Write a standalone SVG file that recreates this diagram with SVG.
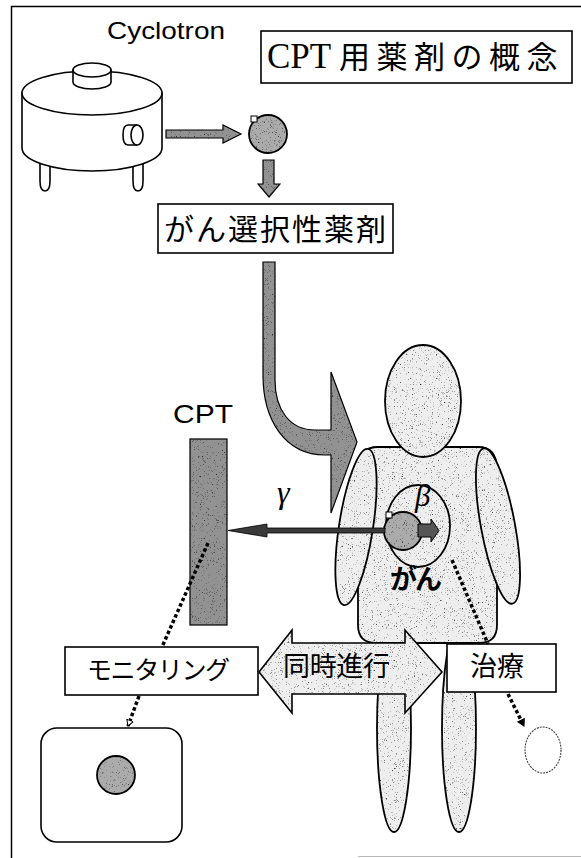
<svg xmlns="http://www.w3.org/2000/svg" width="581" height="858" viewBox="0 0 581 858">
  <style>
    .box { fill: #fff; stroke: #000; stroke-width: 1.6; }
    .body { fill: #eeeeee; stroke: #000; stroke-width: 1.8; }
    .dark { fill: #929292; stroke: #000; stroke-width: 1.2; }
    .ball { fill: #ababab; stroke: #000; stroke-width: 1.8; }
    .white { fill: #fff; stroke: #000; stroke-width: 1.6; }
    .dot { fill: none; stroke: #000; stroke-width: 3.5; stroke-dasharray: 3.5 2.5; }
    .sans { font-family: "Liberation Sans", Arial, sans-serif; fill: #000; }
    .jp { font-family: "Noto Sans CJK JP", "Noto Sans", sans-serif; fill: #000; }
    .greek { font-family: "Liberation Serif", "DejaVu Serif", serif; font-style: italic; fill: #000; }
  </style>
  <defs>
    <!-- speckled print texture for shaded areas -->
    <filter id="stip" x="-3%" y="-3%" width="106%" height="106%" color-interpolation-filters="sRGB">
      <feTurbulence type="fractalNoise" baseFrequency="1.5" numOctaves="1" seed="4" result="n"/>
      <feColorMatrix in="n" type="matrix" values="0 0 0 0 0.1  0 0 0 0 0.1  0 0 0 0 0.1  0 0 0 4 -2.5" result="d"/>
      <feComposite in="d" in2="SourceAlpha" operator="in" result="dm"/>
      <feMerge><feMergeNode in="SourceGraphic"/><feMergeNode in="dm"/></feMerge>
    </filter>
    <marker id="openHead" markerWidth="8" markerHeight="8" refX="6" refY="4" orient="auto" markerUnits="userSpaceOnUse">
      <path d="M0,0.5 L6,4 L0,7.5 Z" fill="#fff" stroke="#000" stroke-width="1"/>
    </marker>
    <marker id="fillHead" markerWidth="10" markerHeight="10" refX="7" refY="4.5" orient="auto" markerUnits="userSpaceOnUse">
      <path d="M0,0 L8,4.5 L0,9 Z" fill="#000"/>
    </marker>
  </defs>

  <rect width="581" height="858" fill="#fff"/>

  <!-- page frame -->
  <g id="frame">
    <line x1="11.5" y1="6" x2="11.5" y2="858" stroke="#000" stroke-width="1.5"/>
    <line x1="11" y1="6.5" x2="581" y2="6.5" stroke="#000" stroke-width="1.5"/>
    <line x1="358" y1="856.5" x2="581" y2="856.5" stroke="#bbb" stroke-width="1"/>
  </g>

  <!-- title -->
  <g id="title">
    <rect class="box" x="261" y="31" width="311" height="52"/>
    <text y="68" font-family="'Liberation Serif', 'Noto Sans CJK JP', serif"><tspan x="267" font-size="35">CPT</tspan><tspan x="339" font-size="31" letter-spacing="6.5">用薬剤の概念</tspan></text>
  </g>

  <!-- cyclotron -->
  <g id="cyclotron">
    <text class="sans" x="107" y="39" font-size="24" textLength="118" lengthAdjust="spacingAndGlyphs">Cyclotron</text>
    <!-- legs -->
    <path class="white" d="M40,160 L40,181 Q40,191 45,191 Q50,191 50,181 L50,160 Z"/>
    <path class="white" d="M133,160 L133,181 Q133,191 138,191 Q143,191 143,181 L143,160 Z"/>
    <!-- drum -->
    <path class="white" d="M22,93 L22,148 A70,23 0 0 0 162,148 L162,93 Z"/>
    <ellipse class="white" cx="92" cy="93" rx="70" ry="22"/>
    <!-- top cap -->
    <path class="white" d="M73,70 L73,82 A19,7 0 0 0 111,82 L111,70 Z"/>
    <ellipse class="white" cx="92" cy="70" rx="19" ry="7"/>
    <!-- beam port -->
    <path class="white" d="M137,125 L128,125 Q123,125 123,135 Q123,145 128,145 L137,145"/>
    <ellipse class="white" cx="137" cy="135" rx="6" ry="10"/>
  </g>

  <!-- radionuclide -->
  <g id="nuclide">
    <circle class="ball" cx="268" cy="134" r="19" filter="url(#stip)"/>
    <rect x="251" y="116" width="6" height="6" fill="#fff" stroke="#000" stroke-width="1"/>
  </g>

  <!-- selective drug label -->
  <g id="drug">
    <rect class="box" x="158" y="204" width="235" height="49"/>
    <text class="jp" x="164" y="240" font-size="30" textLength="222" lengthAdjust="spacing">がん選択性薬剤</text>
  </g>

  <!-- patient -->
  <g id="patient" filter="url(#stip)">
    <ellipse class="body" cx="394" cy="728" rx="17" ry="104"/>
    <ellipse class="body" cx="459" cy="728" rx="17" ry="104"/>
    <path class="body" d="M378,447 L478,447 Q497,447 497,470 L497,625 Q497,643 479,643 L376,643 Q358,643 358,625 L358,470 Q358,447 378,447 Z"/>
    <ellipse class="body" cx="356" cy="527" rx="17" ry="79" transform="rotate(8.7 356 527)"/>
    <ellipse class="body" cx="498" cy="526" rx="17" ry="79" transform="rotate(-10.5 498 526)"/>
    <ellipse class="body" cx="423" cy="401" rx="38" ry="56"/>
    <ellipse class="body" cx="418" cy="526" rx="32" ry="41"/>
  </g>

  <!-- tumour with emitted particles -->
  <g id="tumor">
    <circle class="ball" cx="403" cy="531" r="19" filter="url(#stip)"/>
    <rect x="386" y="512" width="6" height="6" fill="#fff" stroke="#000" stroke-width="1"/>
    <path d="M418,524 L431,524 L431,519 L439,530.5 L431,542 L431,537 L418,537 Z" fill="#555" stroke="#000" stroke-width="1"/>
    <text class="greek" x="415" y="506" font-size="31">β</text>
    <text class="jp" x="390" y="589" font-size="27" font-weight="bold" textLength="52" lengthAdjust="spacing">がん</text>
  </g>

  <!-- CPT detector -->
  <g id="cpt">
    <text class="sans" x="173" y="423" font-size="26" textLength="60" lengthAdjust="spacingAndGlyphs">CPT</text>
    <rect class="dark" x="190" y="439" width="37" height="186" fill="#888" filter="url(#stip)"/>
  </g>
  <text class="greek" x="277" y="503" font-size="32">γ</text>

  <!-- monitoring -->
  <g id="monitoring">
    <rect class="box" x="65" y="647" width="193" height="48"/>
    <text class="jp" x="87" y="679" font-size="25" textLength="143" lengthAdjust="spacing">モニタリング</text>
  </g>

  <g id="screen">
    <rect class="white" x="41" y="728" width="141" height="114" rx="16"/>
    <circle class="ball" cx="116" cy="775" r="19" filter="url(#stip)"/>
  </g>

  <!-- therapy -->
  <g id="therapy">
    <rect class="box" x="447" y="644" width="109" height="48"/>
    <text class="jp" x="470" y="676" font-size="27" textLength="54" lengthAdjust="spacing">治療</text>
  </g>

  <g id="target">
    <ellipse cx="543" cy="750" rx="18" ry="23" fill="none" stroke="#444" stroke-width="1.1" stroke-dasharray="2 1"/>
  </g>

  <!-- connectors -->
  <g id="connectors">
    <!-- beam out of the cyclotron -->
    <path class="dark" d="M166,130 L223,130 L223,125 L241,134 L223,143 L223,138 L166,138 Z" filter="url(#stip)"/>
    <!-- nuclide to drug -->
    <path class="dark" d="M263,160 L274,160 L274,184 L280,184 L269,197 L258,184 L263,184 Z" filter="url(#stip)"/>
    <!-- drug into the patient -->
    <path class="dark" stroke-width="1.6" d="M263,262 L275,262 L275,380 C275,410 290,430 315,430 L331,430 L331,372 L357,442 L331,513 L331,455 L325,455 C285,455 263,420 263,375 Z" filter="url(#stip)"/>
    <!-- gamma ray to detector -->
    <path d="M385,528 L267,528 L267,524 L228,530.5 L267,537 L267,533 L385,533 Z" fill="#3a3a3a" stroke="#000" stroke-width="0.8"/>
    <!-- dotted signal paths -->
    <line class="dot" x1="208" y1="543" x2="162" y2="647"/>
    <line class="dot" x1="139" y1="696" x2="128" y2="726" marker-end="url(#openHead)"/>
    <line class="dot" x1="452" y1="560" x2="488" y2="644"/>
    <line class="dot" x1="508" y1="694" x2="524" y2="726" marker-end="url(#fillHead)"/>
    <!-- simultaneous double arrow -->
    <path d="M259,672 L292,630 L292,643 L405,643 L405,630 L442,672 L405,713 L405,694 L292,694 L292,713 Z" fill="#eeeeee" stroke="#000" stroke-width="1.6" filter="url(#stip)"/>
    <text class="jp" x="283" y="676" font-size="27" textLength="107" lengthAdjust="spacing">同時進行</text>
  </g>
</svg>
